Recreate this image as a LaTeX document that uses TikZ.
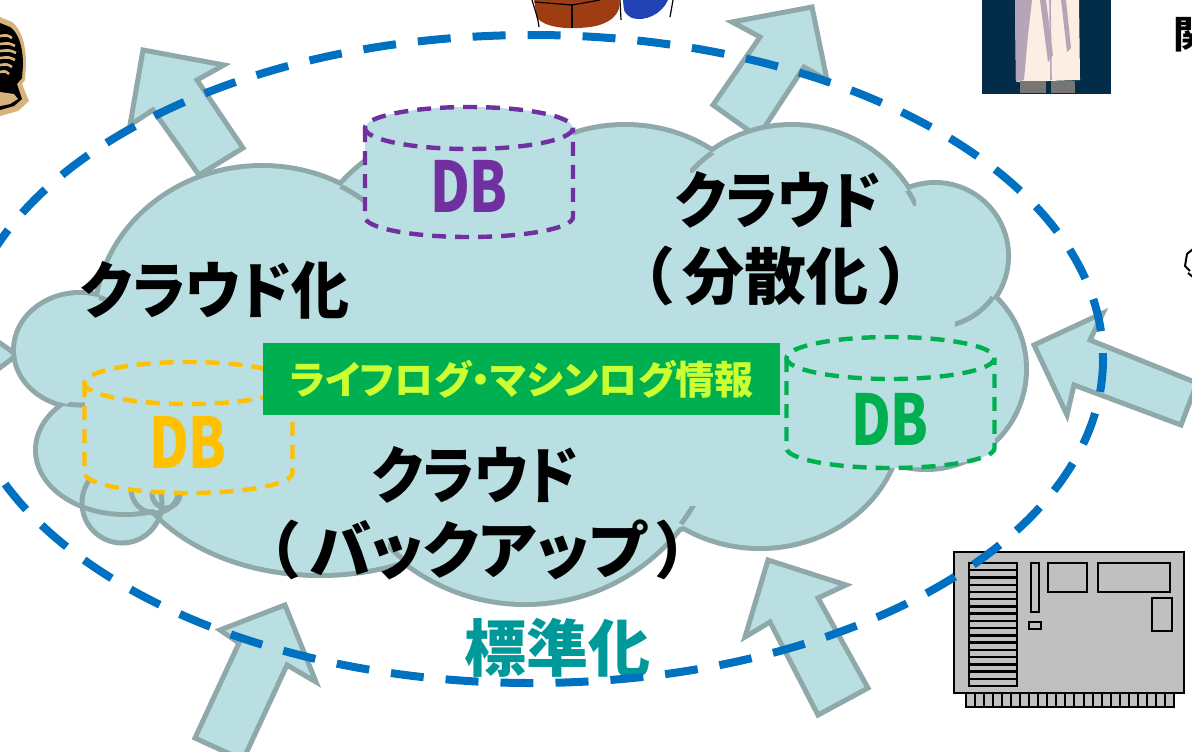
\documentclass[tikz,border=0pt]{standalone}
\usepackage{fontspec}
\usepackage{graphicx}
\newfontfamily\jp{Noto Sans CJK JP}[RawFeature=+palt]
\definecolor{cloudfill}{HTML}{B9DFE3}
\definecolor{cloudline}{HTML}{8FA9AA}
\definecolor{ringblue}{HTML}{0070C0}
\definecolor{dbpurple}{HTML}{7030A0}
\definecolor{dbyellow}{HTML}{FFC000}
\definecolor{dbgreen}{HTML}{00B050}
\definecolor{labelgreen}{HTML}{00B050}
\definecolor{labeltext}{HTML}{CCFF33}
\definecolor{stdteal}{HTML}{009999}
\definecolor{helmtan}{HTML}{D6B27C}
\definecolor{rust}{HTML}{9E3D12}
\definecolor{royal}{HTML}{2142B4}
\definecolor{navy}{HTML}{032C48}
\definecolor{coat}{HTML}{FDEEE3}
\definecolor{coatshade}{HTML}{B4A6B6}
\definecolor{legs}{HTML}{767676}
\definecolor{boardgray}{HTML}{C0C0C0}
\tikzset{
  bigarrow/.style={fill=cloudfill, draw=cloudline, line width=2.5pt, line join=miter, miter limit=10},
  lobeedge/.style={draw=cloudline, line width=5pt},
  cloudedge/.style={draw=cloudline, line width=2.5pt},
  dbedge/.style={line width=2.2pt, dash pattern=on 7pt off 4.5pt},
  dblabel/.style={font=\jp\bfseries\fontsize{35}{40}\selectfont, inner sep=0pt},
  cloudtext/.style={font=\jp\bfseries\fontsize{31}{36}\selectfont, inner sep=0pt, text=black},
  boardline/.style={draw=black, line width=1pt},
}
\newcommand\narrowtext[1]{\scalebox{0.915}[1]{#1}}
\begin{document}
\begin{tikzpicture}[x=0.5pt, y=-0.5pt]
\useasboundingbox (0,0) rectangle (1192,751);
\clip (0,0) rectangle (1192,751);
\fill[white] (0,0) rectangle (1192,751);

% ---- clip art at the edges ----
% helmet, top left
\fill[helmtan] (0,17) -- (12,22) .. controls (22,30) and (26,45) .. (26,65) -- (25,80) -- (22,84) -- (29,101) -- (18,111) -- (0,116) -- cycle;
\fill[black] (0,23) -- (10,27) .. controls (19,33) and (23,48) .. (23,65) -- (22,78) -- (17,84) -- (22,99) -- (14,106) -- (0,110) -- cycle;
\foreach \yy/\ll in {36/12,44/15,51/16,58/15,65/12,72/9}
  \draw[helmtan, line width=1.3pt] (0,\yy) .. controls ({\ll*0.6},{\yy-1}) .. (\ll,{\yy+2});
\fill[helmtan] (0,92) -- (14,94) -- (18,99) -- (10,104) -- (0,106) -- cycle;

% figure, top middle
\fill[rust] (534,0) -- (619,0) .. controls (622,12) and (612,24) .. (590,27) .. controls (565,30) and (545,27) .. (537,18) -- cycle;
\fill[royal] (623,0) -- (668,0) .. controls (662,14) and (645,22) .. (632,18) .. controls (624,13) .. (623,0);
\draw[black, line width=0.6pt] (532,0) .. controls (535,10) and (538,18) .. (539,27);
\draw[black, line width=0.6pt] (572,4) -- (572,28);
\draw[black, line width=0.6pt] (535,2) -- (572,5) -- (600,0);
\draw[black, line width=0.6pt] (620,0) -- (621,20);
\draw[black, line width=0.6pt] (673,0) -- (670,17);

% person, top right
\fill[navy] (982,0) rectangle (1111,94);
\fill[coat] (1015,0) -- (1079,0) -- (1080,80) -- (1016,82) -- cycle;
\fill[coatshade] (1015,0) -- (1032,0) -- (1028,35) -- (1024,80) -- (1016,82) -- cycle;
\fill[coatshade] (1040,0) -- (1046,0) -- (1053,55) -- (1048,62) -- cycle;
\fill[coatshade] (1061,0) -- (1066,0) -- (1071,48) -- (1067,52) -- cycle;
\draw[coatshade, line width=0.8pt] (1050,0) -- (1051,80);
\fill[legs] (1020,81) rectangle (1046,93);
\fill[legs] (1051,81) rectangle (1075,93);
\node[anchor=west, inner sep=0pt, font=\jp\bfseries\fontsize{19}{22}\selectfont] (kan) at (1173,35) {関};

% line drawing fragment, right edge
\draw[black, line width=1pt, line join=round] (1193,249) -- (1187,254) -- (1185,266) -- (1190,271);
\draw[black, line width=1pt] (1188,273) -- (1193,277);

% circuit board, bottom right
\draw[boardline, fill=boardgray] (966,693) rectangle (1174,707);
\foreach \i in {1,...,23} \draw[boardline] ({966+\i*9.04},693) -- ++(0,14);
\draw[boardline, fill=boardgray] (954,552) rectangle (1184,693);
\draw[boardline, line width=1.2pt] (969,563) rectangle (1017,686);
\foreach \i in {1,...,16} \draw[black, line width=1.2pt] (969,{563+\i*7.24}) -- (1017,{563+\i*7.24});
\draw[boardline] (1031,563) rectangle (1039,612);
\draw[boardline] (1029,622) rectangle (1041,629);
\draw[boardline] (1048,563) rectangle (1087,592);
\draw[boardline] (1098,563) rectangle (1170,592);
\draw[boardline] (1152,598) rectangle (1172,631);

% ---- arrows pointing out of / into the cloud ----
\draw[bigarrow] (143,50) -- (224,65) -- (197,80) -- (243,148) -- (199,175) -- (153,110) -- (130,125) -- cycle;
\draw[bigarrow] (812,7) -- (827,80) -- (804,67) -- (758,137) -- (713,105) -- (760,37) -- (732,22) -- cycle;
\draw[bigarrow] (1034,345) -- (1103,313) -- (1090,340) -- (1197,383) -- (1181,425) -- (1074,385) -- (1067,415) -- cycle;
\draw[bigarrow] (285,605) -- (316,682) -- (287,665) -- (243,760) -- (195,738) -- (239,643) -- (220,630) -- cycle;
\draw[bigarrow] (768,560) -- (846,585) -- (818,598) -- (868,688) -- (818,715) -- (770,622) -- (745,637) -- cycle;
\draw[bigarrow] (-30,322) -- (17,355) -- (-30,390) -- cycle;

% ---- cloud ----
% tail bubbles (filled below the cloud, outlined above it)
\foreach \bx/\by/\br in {122/503/40,155/489/24,166/494/14}
  \fill[cloudfill] (\bx,\by) circle [radius=\br];
% lobes: wide strokes first, then fills, leaving only the outer edge
\def\lobes{530/360/400/180, 80/350/64/55, 262/320/165/152, 470/300/172/172,
  625/265/150/138, 792/264/137/137, 935/256/71/71, 926/369/98/98,
  760/420/140/126, 525/407/195/195, 320/440/195/133, 125/450/87/62}
\foreach \cx/\cy/\rx/\ry in \lobes
  \draw[lobeedge] (\cx,\cy) ellipse [x radius=\rx, y radius=\ry];
\foreach \cx/\cy/\rx/\ry in \lobes
  \fill[cloudfill] (\cx,\cy) ellipse [x radius=\rx, y radius=\ry];
% short inner arcs where neighbouring lobes meet
\begin{scope}
  \clip (926,369) circle [radius=98];
  \clip (955,285) rectangle (1000,330);
  \draw[cloudedge] (935,256) circle [radius=71];
\end{scope}
\begin{scope}
  \clip (760,420) ellipse [x radius=140, y radius=126];
  \clip (678,506) rectangle (700,532);
  \draw[cloudedge] (525,407) circle [radius=195];
\end{scope}
\begin{scope}
  \clip (320,440) ellipse [x radius=195, y radius=133];
  \clip (388,540) rectangle (412,566);
  \draw[cloudedge] (525,407) circle [radius=195];
\end{scope}
\begin{scope}
  \clip (625,265) ellipse [x radius=150, y radius=138];
  \clip (690,145) rectangle (714,172);
  \draw[cloudedge] (792,264) circle [radius=137];
\end{scope}
\begin{scope}
  \clip (935,256) circle [radius=71];
  \clip (898,183) rectangle (916,205);
  \draw[cloudedge] (792,264) circle [radius=137];
\end{scope}
\begin{scope}
  \clip (470,300) circle [radius=172];
  \clip (335,172) rectangle (366,205);
  \draw[cloudedge] (262,320) ellipse [x radius=165, y radius=152];
\end{scope}
\begin{scope}
  \clip (262,320) ellipse [x radius=165, y radius=152];
  \clip (92,288) rectangle (112,310);
  \draw[cloudedge] (80,350) ellipse [x radius=64, y radius=55];
\end{scope}
\begin{scope}
  \clip (125,450) ellipse [x radius=87, y radius=62];
  \clip (62,396) rectangle (88,414);
  \draw[cloudedge] (80,350) ellipse [x radius=64, y radius=55];
\end{scope}
\foreach \bx/\by/\br in {122/503/40,155/489/24,166/494/14}
  \draw[cloudedge] (\bx,\by) circle [radius=\br];

% ---- database cylinders ----
\foreach \nm/\cx/\ty/\by/\col/\tx/\tyy in {dbp/469/128/217/dbpurple/469/186,
    dby/188.5/383/473/dbyellow/188/442, dbg/890.5/358/448/dbgreen/890/419} {
  \fill[cloudfill] (\cx,\ty) ellipse [x radius=104, y radius=21];
  \fill[cloudfill] (\cx,\by) ellipse [x radius=104, y radius=20];
  \fill[cloudfill] ({\cx-104},\ty) rectangle ({\cx+104},\by);
  \draw[dbedge, draw=\col] (\cx,\ty) ellipse [x radius=104, y radius=21];
  \draw[dbedge, draw=\col] ({\cx-104},\ty) -- ({\cx-104},\by)
     arc [start angle=180, end angle=0, x radius=104, y radius=20] -- ({\cx+104},\ty);
  \node[dblabel, text=\col] (\nm) at (\tx,\tyy) {\scalebox{0.78}[1]{DB}};
}

% ---- label bar ----
\node[fill=labelgreen, minimum width=258.5pt, minimum height=36pt, inner sep=0pt,
      text=labeltext, font=\jp\bfseries\fontsize{19.5}{23}\selectfont] (info) at (521.5,379)
      {ライフログ・マシンログ情報};

% ---- cloud captions ----
\node[cloudtext] (cloudify) at (215,290) {\scalebox{0.935}[1]{クラウド化}};
\node[cloudtext] (distA) at (778,200) {\narrowtext{クラウド}};
\node[cloudtext] (distB) at (776,276) {（\hspace{5pt}分散化\hspace{5pt}）};
\node[cloudtext] (backA) at (475,475) {\narrowtext{クラウド}};
\node[cloudtext] (backB) at (478,550) {（\hspace{5.5pt}バックアップ\hspace{5.5pt}）};
\node[cloudtext, text=stdteal] (std) at (557,648) {標準化};

% ---- standardisation ring ----
\draw[ringblue, line width=4pt, dash pattern=on 16.5pt off 11pt] (532,359) ellipse [x radius=571, y radius=324];
\end{tikzpicture}
\end{document}
